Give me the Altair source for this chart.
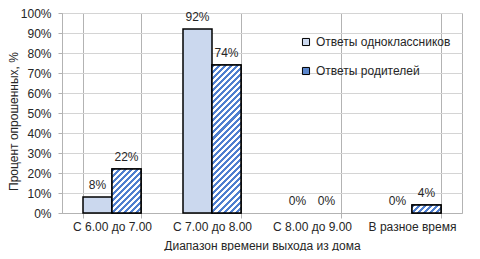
import math
import altair as alt
import pandas as pd

categories = ["С 6.00 до 7.00", "С 7.00 до 8.00", "С 8.00 до 9.00", "В разное время"]
series_names = ["Ответы одноклассников", "Ответы родителей"]
classmates = [0.08, 0.92, 0.0, 0.0]
parents = [0.22, 0.74, 0.0, 0.04]

rows = []
for i, c in enumerate(categories):
    rows.append({"cat": c, "series": series_names[0], "value": classmates[i], "idx": f"a{i}"})
    rows.append({"cat": c, "series": series_names[1], "value": parents[i], "idx": f"b{i}"})
df = pd.DataFrame(rows)

FONT = "Liberation Sans"
FS = 12
PLOT_W, PLOT_H = 400, 200
BAR_W = 29.0
C1 = "#cbd8ee"
C2 = "#5b86cc"
TXT = "#262626"


def stripes(w, h, period=4.3, ca="#4f7fcf", cb="#ffffff"):
    L = w + h
    d = period * math.sqrt(2)
    n = L / d
    stops = []
    k = 0
    while k / n < 1:
        a, b, c = k / n, (k + 0.5) / n, min((k + 1) / n, 1.0)
        stops += [(a, ca), (min(b, 1.0), ca), (min(b, 1.0), cb), (c, cb)]
        k += 1
    S = L / (w * w + h * h)
    return alt.Gradient(
        gradient="linear",
        stops=[alt.GradientStop(offset=o, color=col) for o, col in stops],
        x1=0, y1=0, x2=w * S, y2=h * S,
    )


x_enc = alt.X(
    "cat:N", sort=categories,
    scale=alt.Scale(paddingInner=0.42, paddingOuter=0.21),
    axis=alt.Axis(
        title="Диапазон времени выхода из дома", labelAngle=0, tickBand="extent",
        grid=True, gridColor="#b3b3b3", tickColor="#b3b3b3", domainColor="#b3b3b3",
        tickSize=5, labelPadding=3, titlePadding=8,
    ),
)
xo_enc = alt.XOffset("series:N", sort=series_names)
y_enc = alt.Y(
    "value:Q", scale=alt.Scale(domain=[0, 1]),
    axis=alt.Axis(
        title="Процент опрошенных, %", format=".0%",
        values=[i / 10 for i in range(11)], grid=True, gridColor="#d4d4d4",
        tickColor="#b3b3b3", domainColor="#b3b3b3", tickSize=4, labelPadding=7,
        titleX=-42, titleY=108,
    ),
)

base = alt.Chart(df).encode(x=x_enc, xOffset=xo_enc, y=y_enc)

solid = base.mark_bar(stroke="black", strokeWidth=1.5).encode(
    color=alt.Color(
        "series:N",
        scale=alt.Scale(domain=series_names, range=[C1, C2]),
        legend=alt.Legend(
            title=None, orient="none", legendX=238, legendY=23, symbolType="square",
            symbolSize=50, symbolStrokeColor="black", symbolStrokeWidth=1,
            rowPadding=17, labelFontSize=FS, labelColor=TXT, labelFont=FONT,
            symbolOpacity=1,
        ),
    )
).transform_filter("datum.value > 0")

layers = [solid]
for i, v in enumerate(parents):
    if v > 0:
        layers.append(
            base.mark_bar(
                fill=stripes(BAR_W, v * PLOT_H), stroke="black", strokeWidth=1.5
            ).transform_filter(f"datum.idx == 'b{i}'")
        )

labels = base.mark_text(baseline="bottom", dy=-5, fontSize=FS, font=FONT, color=TXT).encode(
    text=alt.Text("value:Q", format=".0%")
)
layers.append(labels)

chart = alt.layer(*layers).properties(
    width=PLOT_W, height=PLOT_H,
    autosize=alt.AutoSizeParams(type="none"),
    padding={"left": 54, "top": 5, "right": 8, "bottom": 38},
).configure_view(stroke="#b3b3b3").configure_axis(
    labelFont=FONT, titleFont=FONT, labelFontSize=FS, titleFontSize=FS,
    labelColor=TXT, titleColor=TXT, titleFontWeight="normal",
)

chart.save("out.html", embed_options={"renderer": "svg", "actions": False})
